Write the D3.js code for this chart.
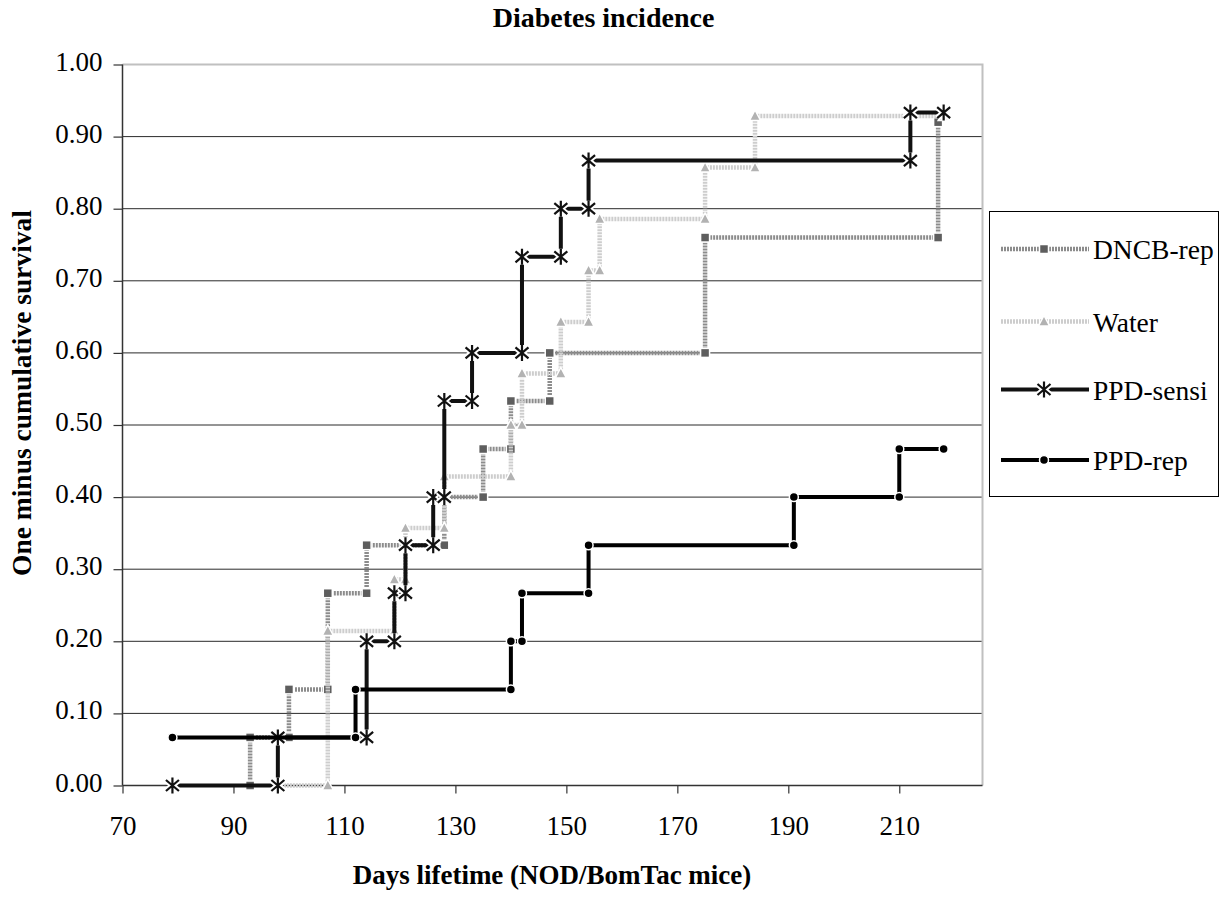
<!DOCTYPE html>
<html><head><meta charset="utf-8">
<script src="https://cdn.jsdelivr.net/npm/d3@7"></script>
<style>
body{margin:0;background:#fff}
svg{display:block}
text{font-family:"Liberation Serif","Times New Roman",serif;fill:#000}
</style>
</head><body>
<svg id="chart" width="1231" height="897"></svg>
<script>
// ---- data ----
const title = "Diabetes incidence";
const xAxisTitle = "Days lifetime (NOD/BomTac mice)";
const yAxisTitle = "One minus cumulative survival";
const xTicks = [70, 90, 110, 130, 150, 170, 190, 210];
const yTicks = [0, 0.1, 0.2, 0.3, 0.4, 0.5, 0.6, 0.7, 0.8, 0.9, 1.0];
const seriesNames = ["DNCB-rep", "Water", "PPD-sensi", "PPD-rep"];

const dncbDays = [93, 93, 100, 100, 107, 107, 114, 114, 128, 128, 135, 135, 140, 140, 147, 147, 175, 175, 217, 217];
const dncbVals = [0, 0.0667, 0.0667, 0.1333, 0.1333, 0.2667, 0.2667, 0.3333, 0.3333, 0.4, 0.4, 0.4667, 0.4667, 0.5333, 0.5333, 0.6, 0.6, 0.76, 0.76, 0.92];

const waterDays = [98, 107, 107, 119, 119, 121, 121, 128, 128, 140, 140, 142, 142, 149, 149, 154, 154, 156, 156, 175, 175, 184, 184, 218];
const waterVals = [0, 0, 0.2143, 0.2143, 0.2857, 0.2857, 0.3571, 0.3571, 0.4286, 0.4286, 0.5, 0.5, 0.5714, 0.5714, 0.6429, 0.6429, 0.7143, 0.7143, 0.7857, 0.7857, 0.8571, 0.8571, 0.9286, 0.9286];

const sensiDays = [79, 98, 98, 114, 114, 119, 119, 121, 121, 126, 126, 128, 128, 133, 133, 142, 142, 149, 149, 154, 154, 212, 212, 218];
const sensiVals = [0, 0, 0.0667, 0.0667, 0.2, 0.2, 0.2667, 0.2667, 0.3333, 0.3333, 0.4, 0.4, 0.5333, 0.5333, 0.6, 0.6, 0.7333, 0.7333, 0.8, 0.8, 0.8667, 0.8667, 0.9333, 0.9333];

const repDays = [79, 112, 112, 140, 140, 142, 142, 154, 154, 191, 191, 210, 210, 218];
const repVals = [0.0667, 0.0667, 0.1333, 0.1333, 0.2, 0.2, 0.2667, 0.2667, 0.3333, 0.3333, 0.4, 0.4, 0.4667, 0.4667];

// ---- layout ----
const svg = d3.select("#chart");
const pL = 122.5, pR = 982.5, pT = 64.5, pB = 785.5;
const x = d3.scaleLinear().domain([70, 225]).range([pL, pR]);
const y = d3.scaleLinear().domain([0, 1]).range([pB, pT]);

// gridlines
svg.append("g").selectAll("line").data(yTicks.filter(v => v > 0 && v < 1)).join("line")
  .attr("x1", pL).attr("x2", pR)
  .attr("y1", d => y(d)).attr("y2", d => y(d))
  .attr("stroke", "#2a2a2a").attr("stroke-width", 1);

// plot border (top/right light gray)
svg.append("path")
  .attr("d", `M${pL},${pT}H${pR}V${pB}`)
  .attr("fill", "none").attr("stroke", "#c0c0c0").attr("stroke-width", 2);

// axes
const yAxis = d3.axisLeft(y).tickValues(yTicks).tickFormat(d3.format(".2f")).tickSize(9).tickPadding(11);
const gy = svg.append("g").attr("transform", `translate(${pL},0)`).call(yAxis);
const xAxis = d3.axisBottom(x).tickValues(xTicks).tickFormat(d3.format("d")).tickSize(8).tickPadding(8);
const gx = svg.append("g").attr("transform", `translate(0,${pB})`).call(xAxis);
[gx, gy].forEach(g => {
  g.select(".domain").attr("stroke", "#333").attr("stroke-width", 1.5);
  g.selectAll(".tick line").attr("stroke", "#333").attr("stroke-width", 1.2);
  g.selectAll("text").attr("font-size", 27).attr("fill", "#000");
});
gx.select(".domain").attr("d", `M${pL},0H${pR}`);
gy.select(".domain").attr("d", `M0,${pT}V${pB}`);
gy.selectAll("text").attr("dy", "5.5px");
gx.selectAll("text").attr("y", 49.5).attr("dy", null);

// ---- markers ----
function drawMarker(g, type, cx, cy) {
  if (type === "square") {
    g.append("rect").attr("x", cx - 4.5).attr("y", cy - 4.5).attr("width", 9).attr("height", 9)
      .attr("fill", "#5e5e5e").attr("stroke", "#fff").attr("stroke-width", 1.5);
  } else if (type === "triangle") {
    g.append("path").attr("d", `M${cx},${cy - 6}L${cx + 5.5},${cy + 4.5}L${cx - 5.5},${cy + 4.5}Z`)
      .attr("fill", "#b2b2b2").attr("stroke", "#fff").attr("stroke-width", 1.5);
  } else if (type === "star") {
    const d = `M${cx},${cy - 8}V${cy + 8}M${cx - 6.5},${cy - 5.5}L${cx + 6.5},${cy + 5.5}M${cx - 6.5},${cy + 5.5}L${cx + 6.5},${cy - 5.5}`;
    g.append("path").attr("d", d).attr("stroke", "#fff").attr("stroke-width", 6).attr("fill", "none");
    g.append("path").attr("d", d).attr("stroke", "#111").attr("stroke-width", 2.2).attr("fill", "none");
  } else if (type === "circle") {
    g.append("circle").attr("cx", cx).attr("cy", cy).attr("r", 4.5)
      .attr("fill", "#000").attr("stroke", "#fff").attr("stroke-width", 1.5);
  }
}

const series = [
  {name: seriesNames[0], days: dncbDays, vals: dncbVals, color: "#8c8c8c", width: 4.5, dash: "2,1", marker: "square"},
  {name: seriesNames[1], days: waterDays, vals: waterVals, color: "#cdcdcd", width: 4.5, dash: "2,1", marker: "triangle"},
  {name: seriesNames[2], days: sensiDays, vals: sensiVals, color: "#111", width: 4, dash: null, marker: "star"},
  {name: seriesNames[3], days: repDays, vals: repVals, color: "#000", width: 4, dash: null, marker: "circle"}
];

const line = d3.line().x(d => x(d[0])).y(d => y(d[1]));
series.forEach(s => {
  const pts = s.days.map((d, i) => [d, s.vals[i]]);
  const g = svg.append("g");
  g.append("path").attr("d", line(pts)).attr("fill", "none")
    .attr("stroke", s.color).attr("stroke-width", s.width)
    .attr("stroke-dasharray", s.dash);
  pts.forEach(p => drawMarker(g, s.marker, x(p[0]), y(p[1])));
});

// ---- titles ----
svg.append("text").attr("x", 603.5).attr("y", 27).attr("text-anchor", "middle")
  .attr("font-weight", "bold").attr("font-size", 28).text(title);
svg.append("text").attr("x", 552).attr("y", 884).attr("text-anchor", "middle")
  .attr("font-weight", "bold").attr("font-size", 27).text(xAxisTitle);
svg.append("text").attr("transform", "translate(31,393) rotate(-90)").attr("text-anchor", "middle")
  .attr("font-weight", "bold").attr("font-size", 27.5).text(yAxisTitle);

// ---- legend ----
const lg = svg.append("g");
lg.append("rect").attr("x", 989.5).attr("y", 211.5).attr("width", 229).attr("height", 285)
  .attr("fill", "#fff").attr("stroke", "#000").attr("stroke-width", 1);
const rowY = [249, 321.5, 389.5, 460];
series.forEach((s, i) => {
  const yy = rowY[i];
  lg.append("line").attr("x1", 1001).attr("x2", 1089).attr("y1", yy).attr("y2", yy)
    .attr("stroke", s.color).attr("stroke-width", s.width).attr("stroke-dasharray", s.dash);
  drawMarker(lg, s.marker, 1044, yy);
  lg.append("text").attr("x", 1093).attr("y", yy + 10).attr("font-size", 27.5).text(s.name);
});
</script>
</body></html>
